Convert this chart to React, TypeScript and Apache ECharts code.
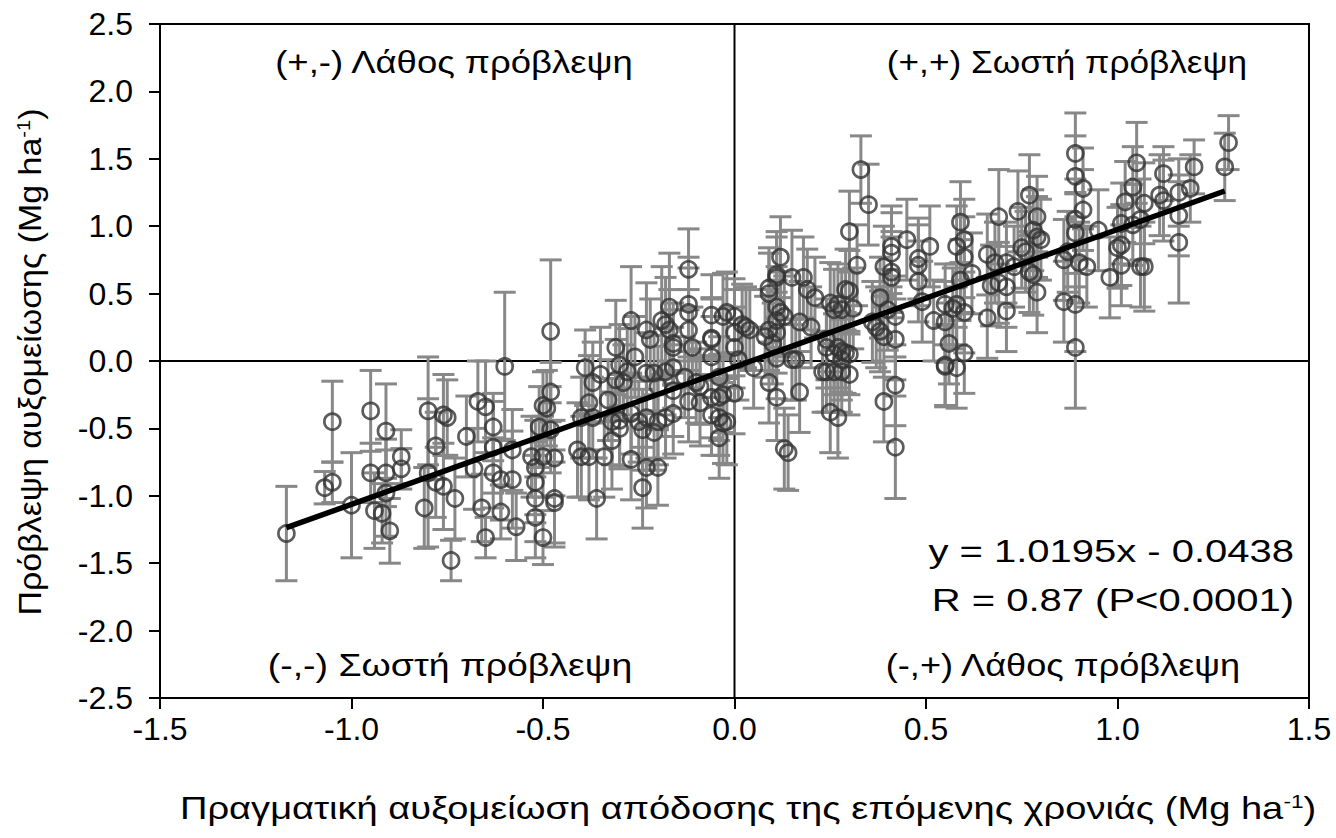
import React, { useEffect, useRef } from "react";
import * as echarts from "echarts";

// [actual change (x), predicted change (y), error (±)]
const leftPts: number[][] = [
  [-1.17, -1.28, 0.35], [-1.07, -0.94, 0.12], [-1.05, -0.45, 0.30], [-1.05, -0.90, 0.15],
  [-1.0, -1.07, 0.39], [-0.95, -0.37, 0.30], [-0.95, -0.83, 0.22], [-0.91, -0.52, 0.35],
  [-0.91, -0.83, 0.25], [-0.87, -0.71, 0.2], [-0.87, -0.8, 0.15], [-0.91, -0.98, 0.32],
  [-0.94, -1.11, 0.28], [-0.92, -1.13, 0.22], [-0.9, -1.26, 0.24], [-0.8, -0.37, 0.4],
  [-0.76, -0.4, 0.3], [-0.75, -0.42, 0.28], [-0.78, -0.63, 0.25], [-0.8, -0.83, 0.55],
  [-0.78, -0.9, 0.26], [-0.76, -0.93, 0.32], [-0.81, -1.09, 0.3], [-0.73, -1.02, 0.3],
  [-0.74, -1.48, 0.15], [-0.67, -0.3, 0.3], [-0.65, -0.34, 0.34], [-0.7, -0.56, 0.3],
  [-0.63, -0.49, 0.25], [-0.63, -0.64, 0.34], [-0.68, -0.8, 0.3], [-0.63, -0.83, 0.26],
  [-0.66, -1.09, 0.25], [-0.65, -1.31, 0.15], [-0.61, -1.12, 0.2], [-0.6, -0.04, 0.55],
  [-0.61, -0.88, 0.3],
];

const midLeftPts: number[][] = [
  [-0.48, 0.22, 0.53], [-0.48, -0.23, 0.22], [-0.5, -0.33, 0.25], [-0.49, -0.35, 0.28],
  [-0.58, -0.66, 0.3], [-0.58, -0.88, 0.36], [-0.53, -0.71, 0.3], [-0.52, -0.79, 0.35],
  [-0.52, -0.9, 0.3], [-0.52, -1.02, 0.32], [-0.47, -1.02, 0.36], [-0.5, -0.71, 0.3],
  [-0.47, -0.72, 0.28], [-0.51, -0.49, 0.3], [-0.48, -0.51, 0.32], [-0.57, -1.23, 0.25],
  [-0.52, -1.16, 0.3], [-0.5, -1.31, 0.2], [-0.47, -1.05, 0.3], [-0.41, -0.66, 0.35],
  [-0.4, -0.71, 0.3], [-0.4, -0.42, 0.3], [-0.38, -0.71, 0.32], [-0.34, -0.71, 0.3],
  [-0.36, -1.02, 0.3], [-0.38, -0.31, 0.35], [-0.37, -0.16, 0.3], [-0.39, -0.05, 0.28],
  [-0.35, -0.1, 0.35], [-0.33, -0.29, 0.3], [-0.32, -0.59, 0.36], [-0.31, 0.1, 0.35],
  [-0.3, -0.03, 0.3], [-0.28, -0.08, 0.32], [-0.31, -0.14, 0.3], [-0.29, -0.16, 0.28],
  [-0.27, 0.3, 0.4], [-0.26, 0.03, 0.3], [-0.27, -0.39, 0.3], [-0.3, -0.44, 0.34],
  [-0.3, -0.5, 0.3], [-0.27, -0.73, 0.3], [-0.24, -0.94, 0.3], [-0.23, 0.23, 0.35],
  [-0.22, 0.16, 0.3], [-0.19, 0.3, 0.4], [-0.18, 0.27, 0.35], [-0.17, 0.23, 0.3],
  [-0.17, 0.4, 0.4], [-0.16, 0.13, 0.3], [-0.16, 0.1, 0.28], [-0.12, 0.68, 0.3],
  [-0.12, 0.42, 0.35], [-0.12, 0.36, 0.33], [-0.12, 0.23, 0.3], [-0.11, 0.1, 0.3],
  [-0.23, -0.09, 0.3], [-0.21, -0.09, 0.28], [-0.18, -0.08, 0.32], [-0.16, -0.05, 0.3],
  [-0.2, -0.19, 0.3], [-0.16, -0.22, 0.34], [-0.23, -0.42, 0.3], [-0.2, -0.45, 0.32],
  [-0.18, -0.42, 0.3], [-0.24, -0.51, 0.3], [-0.21, -0.53, 0.28], [-0.12, -0.3, 0.3],
  [-0.09, -0.31, 0.32], [-0.23, -0.79, 0.3], [-0.2, -0.79, 0.28], [-0.13, -0.12, 0.3],
  [-0.1, -0.16, 0.3], [-0.37, -0.42, 0.3], [-0.32, -0.45, 0.32], [-0.25, -0.45, 0.3],
  [-0.16, -0.39, 0.3], [-0.09, -0.19, 0.28],
];

const centerPts: number[][] = [
  [-0.06, 0.34, 0.3], [-0.03, 0.33, 0.32], [-0.02, 0.36, 0.3], [0.0, 0.33, 0.28],
  [-0.06, 0.17, 0.3], [-0.06, 0.03, 0.3], [0.0, 0.21, 0.32], [0.0, 0.1, 0.3],
  [-0.04, -0.12, 0.3], [-0.06, -0.27, 0.3], [-0.04, -0.27, 0.32], [-0.06, -0.4, 0.3],
  [-0.04, -0.42, 0.28], [-0.03, -0.46, 0.3], [-0.02, -0.45, 0.32], [-0.04, -0.57, 0.3],
  [0.0, -0.24, 0.3], [-0.03, -0.25, 0.28], [0.03, 0.25, 0.3], [0.04, 0.23, 0.3],
  [0.01, 0.01, 0.3], [-0.06, 0.16, 0.3], [0.02, 0.27, 0.3], [0.05, -0.05, 0.3],
  [0.09, -0.16, 0.3], [0.11, -0.27, 0.32], [0.09, 0.54, 0.3], [0.09, 0.5, 0.3],
  [0.08, 0.18, 0.3], [0.09, 0.23, 0.3], [0.12, 0.77, 0.3], [0.11, 0.64, 0.32],
  [0.11, 0.62, 0.3], [0.15, 0.62, 0.35], [0.18, 0.62, 0.3], [0.19, 0.53, 0.3],
  [0.21, 0.47, 0.3], [0.11, 0.4, 0.3], [0.12, 0.36, 0.3], [0.11, 0.3, 0.3],
  [0.13, 0.33, 0.3], [0.17, 0.29, 0.3], [0.2, 0.25, 0.3], [0.11, 0.21, 0.3],
  [0.1, 0.13, 0.3], [0.11, 0.02, 0.3], [0.15, 0.01, 0.3], [0.16, 0.01, 0.3],
  [0.17, -0.23, 0.3], [0.13, -0.65, 0.3], [0.14, -0.68, 0.28], [0.25, 0.43, 0.3],
  [0.26, 0.38, 0.3], [0.27, 0.42, 0.3], [0.28, 0.38, 0.3], [0.29, 0.53, 0.3],
  [0.31, 0.39, 0.3], [0.24, 0.16, 0.3], [0.24, 0.1, 0.3], [0.27, 0.1, 0.3],
  [0.28, 0.07, 0.3], [0.29, 0.06, 0.3], [0.3, 0.05, 0.3], [0.26, 0.05, 0.3],
  [0.28, 0.01, 0.3], [0.23, -0.08, 0.3], [0.24, -0.08, 0.3], [0.26, -0.08, 0.3],
  [0.28, -0.08, 0.3], [0.3, -0.1, 0.3], [0.25, -0.38, 0.3], [0.27, -0.42, 0.3],
  [0.3, 0.96, 0.3], [0.32, 0.71, 0.3], [0.3, 0.52, 0.3], [0.33, 1.42, 0.25],
  [0.35, 1.16, 0.3],
];

const midRightPts: number[][] = [
  [0.45, 0.9, 0.3], [0.41, 0.85, 0.3], [0.41, 0.8, 0.3], [0.51, 0.85, 0.3],
  [0.48, 0.76, 0.3], [0.48, 0.71, 0.3], [0.39, 0.7, 0.3], [0.41, 0.66, 0.3],
  [0.41, 0.62, 0.3], [0.48, 0.59, 0.3], [0.49, 0.44, 0.3], [0.38, 0.47, 0.3],
  [0.4, 0.38, 0.3], [0.42, 0.33, 0.3], [0.36, 0.29, 0.3], [0.37, 0.25, 0.3],
  [0.38, 0.22, 0.3], [0.39, 0.18, 0.3], [0.42, 0.16, 0.3], [0.39, -0.3, 0.3],
  [0.42, -0.18, 0.3], [0.42, -0.64, 0.38], [0.55, 0.42, 0.3], [0.57, 0.39, 0.3],
  [0.55, 0.29, 0.3], [0.56, 0.13, 0.3], [0.55, -0.04, 0.3], [0.59, 1.03, 0.3],
  [0.58, 0.85, 0.3], [0.59, 0.6, 0.3], [0.52, 0.3, 0.3], [0.55, -0.03, 0.3],
  [0.58, -0.05, 0.3], [0.6, 0.06, 0.3], [0.6, 0.9, 0.3], [0.6, 0.77, 0.3],
  [0.62, 0.65, 0.3], [0.58, 0.42, 0.3], [0.6, 0.36, 0.3], [0.66, 0.79, 0.3],
  [0.68, 0.73, 0.3], [0.67, 0.56, 0.3], [0.69, 0.58, 0.3], [0.66, 0.32, 0.3],
  [0.69, 1.07, 0.35],
];

const rightPts: number[][] = [
  [0.89, 1.54, 0.3], [0.89, 1.37, 0.3], [0.91, 1.28, 0.3], [0.91, 1.12, 0.3],
  [0.89, 1.05, 0.3], [0.89, 0.95, 0.3], [0.95, 0.97, 0.3], [0.86, 0.75, 0.3],
  [0.87, 0.81, 0.3], [0.9, 0.73, 0.3], [0.92, 0.7, 0.3], [0.86, 0.44, 0.3],
  [0.89, 0.42, 0.35], [0.89, 0.1, 0.45], [0.77, 1.23, 0.3], [0.74, 1.11, 0.3],
  [0.79, 1.07, 0.3], [0.78, 0.97, 0.3], [0.79, 0.92, 0.3], [0.8, 0.9, 0.3],
  [0.75, 0.84, 0.3], [0.76, 0.81, 0.3], [0.71, 0.73, 0.3], [0.73, 0.7, 0.3],
  [0.77, 0.66, 0.3], [0.78, 0.64, 0.3], [0.71, 0.55, 0.3], [0.79, 0.51, 0.3],
  [0.71, 0.37, 0.3], [0.98, 0.62, 0.3], [1.02, 1.18, 0.3], [1.04, 1.29, 0.3],
  [1.05, 1.47, 0.3], [1.01, 1.02, 0.3], [1.01, 0.86, 0.3], [1.0, 0.84, 0.3],
  [1.01, 0.71, 0.3], [1.06, 1.05, 0.3], [1.06, 0.7, 0.3], [1.29, 1.62, 0.2],
  [1.28, 1.44, 0.25], [1.2, 1.44, 0.2], [1.19, 1.28, 0.25], [1.16, 1.25, 0.25],
  [1.12, 1.39, 0.2], [1.07, 1.17, 0.3], [1.11, 1.23, 0.3], [1.12, 1.19, 0.3],
  [1.04, 1.01, 0.3], [1.16, 1.08, 0.3], [1.16, 0.88, 0.45], [1.07, 0.7, 0.33],
];

const fitSlope = 1.0195;
const fitIntercept = -0.0438;
const fitRange = [-1.17, 1.28];

const xTicks = { min: -1.5, max: 1.5, interval: 0.5 };
const yTicks = { min: -2.5, max: 2.5, interval: 0.5 };

const xTitle = "Πραγματική αυξομείωση απόδοσης της επόμενης χρονιάς (Mg ha{sup|-1})";
const yTitle = "Πρόβλεψη αυξομείωσης (Mg ha{sup|-1})";
const quadrantLabels = [
  "(+,-) Λάθος πρόβλεψη",
  "(+,+) Σωστή πρόβλεψη",
  "(-,-) Σωστή πρόβλεψη",
  "(-,+) Λάθος πρόβλεψη",
];
const equationText = "y = 1.0195x - 0.0438";
const statsText = "R = 0.87 (P<0.0001)";

const FONT = "'Liberation Sans', Arial, sans-serif";

const supRich = {
  sup: { fontSize: 19, verticalAlign: "top", fill: "#000", fontFamily: FONT },
};

export default function App() {
  const ref = useRef<HTMLDivElement>(null);
  useEffect(() => {
    if (!ref.current) return;
    const chart = echarts.init(ref.current, undefined, { renderer: "svg" });
    const allPts = [...leftPts, ...midLeftPts, ...centerPts, ...midRightPts, ...rightPts];
    const fitLine = fitRange.map((x) => [x, fitSlope * x + fitIntercept]);

    const txt = (text: string, x: number, y: number, align: string, size: number, sx: number, extra: any = {}) => ({
      type: "text",
      x,
      y,
      scaleX: sx,
      silent: true,
      ...extra,
      style: {
        text,
        fontSize: size,
        fontFamily: FONT,
        fill: "#000",
        textAlign: align,
        textVerticalAlign: "middle",
        rich: supRich,
      },
    });

    const option: any = {
      animation: false,
      backgroundColor: "#fff",
      textStyle: { fontFamily: FONT },
      grid: {
        left: 160, right: 27, top: 24, bottom: 140,
        containLabel: false, outerBoundsMode: "none",
        show: true, borderColor: "#000", borderWidth: 2, backgroundColor: "transparent",
      },
      xAxis: {
        type: "value", ...xTicks,
        axisLine: { show: true, onZero: false, lineStyle: { color: "#000", width: 2 } },
        axisTick: { show: true, inside: false, length: 11, lineStyle: { color: "#000", width: 2 } },
        axisLabel: { fontSize: 32, color: "#000", margin: 15, fontFamily: FONT, showMinLabel: true, showMaxLabel: true, formatter: (v: number) => v.toFixed(1) },
        splitLine: { show: false },
      },
      yAxis: {
        type: "value", ...yTicks,
        axisLine: { show: true, onZero: false, lineStyle: { color: "#000", width: 2 } },
        axisTick: { show: true, inside: false, length: 11, lineStyle: { color: "#000", width: 2 } },
        axisLabel: { fontSize: 32, color: "#000", margin: 27, fontFamily: FONT, showMinLabel: true, showMaxLabel: true, formatter: (v: number) => v.toFixed(1) },
        splitLine: { show: false },
      },
      series: [
        {
          type: "line", data: [[0, yTicks.min], [0, yTicks.max]], symbol: "none", silent: true, z: 1,
          lineStyle: { color: "#000", width: 2 },
        },
        {
          type: "line", data: [[xTicks.min, 0], [xTicks.max, 0]], symbol: "none", silent: true, z: 1,
          lineStyle: { color: "#000", width: 2 },
        },
        {
          type: "custom", z: 2, silent: true, data: allPts,
          renderItem: (params: any, api: any) => {
            const x = api.value(0), y = api.value(1), e = api.value(2);
            const top = api.coord([x, y + e]);
            const bot = api.coord([x, y - e]);
            const hw = 11;
            const style = { stroke: "#888", lineWidth: 3 };
            return {
              type: "group",
              children: [
                { type: "line", shape: { x1: top[0], y1: top[1], x2: bot[0], y2: bot[1] }, style },
                { type: "line", shape: { x1: top[0] - hw, y1: top[1], x2: top[0] + hw, y2: top[1] }, style },
                { type: "line", shape: { x1: bot[0] - hw, y1: bot[1], x2: bot[0] + hw, y2: bot[1] }, style },
              ],
            };
          },
        },
        {
          type: "scatter", z: 3, data: allPts.map((p) => [p[0], p[1]]),
          symbol: "circle", symbolSize: 16, silent: true,
          itemStyle: { color: "rgba(0,0,0,0)", borderColor: "#333", borderWidth: 2.7 },
        },
        {
          type: "line", z: 4, data: fitLine, symbol: "none", silent: true,
          lineStyle: { color: "#000", width: 5.5 },
        },
      ],
      graphic: [
        txt(quadrantLabels[0], 454, 62, "center", 32, 1.14),
        txt(quadrantLabels[1], 1067, 62, "center", 32, 1.1),
        txt(quadrantLabels[2], 450, 665, "center", 32, 1.17),
        txt(quadrantLabels[3], 1063, 665, "center", 32, 1.13),
        txt(equationText, 1294, 552, "right", 31, 1.29),
        txt(statsText, 1294, 601, "right", 31, 1.29),
        txt(xTitle, 748, 808, "center", 32, 1.19),
        txt(yTitle, 30, 362, "center", 32, 1.06, { rotation: Math.PI / 2 }),
      ],
    };
    chart.setOption(option);
    return () => chart.dispose();
  }, []);
  return (
    <div
      ref={ref}
      style={{ position: "fixed", left: 0, top: 0, width: 1336, height: 838, background: "#fff" }}
    />
  );
}
